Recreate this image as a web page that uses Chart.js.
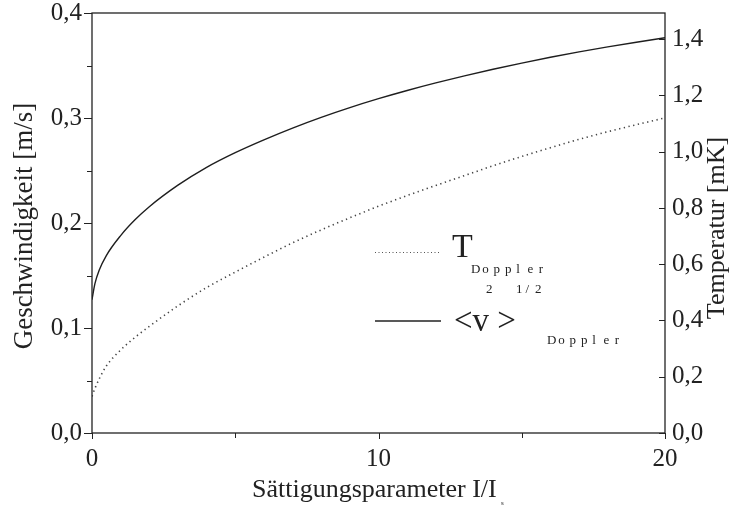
<!DOCTYPE html>
<html>
<head>
<meta charset="utf-8">
<script src="https://cdn.jsdelivr.net/npm/chart.js@4"></script>
<style>
  body { margin: 0; background: #fff; }
  canvas { display: block; }
</style>
</head>
<body>
<canvas id="chart" width="745" height="509"></canvas>
<script>
// saturation parameter I/Is
var sat = [0, 0.1, 0.25, 0.5, 1, 1.5, 2, 3, 4, 5, 6, 7, 8, 9, 10, 11, 12, 13, 14, 15, 16, 17, 18, 19, 20];
// <v^2>^1/2 Doppler [m/s], left axis
var vel = [0.127, 0.142, 0.155, 0.169, 0.188, 0.203, 0.2155, 0.236, 0.253, 0.267, 0.2792, 0.2904, 0.3006, 0.3099, 0.3184, 0.3262, 0.3334, 0.3401, 0.3464, 0.3523, 0.3579, 0.3630, 0.3677, 0.3722, 0.3764];
// T Doppler [mK], right axis
var temp = [0.13, 0.158, 0.192, 0.238, 0.295, 0.340, 0.379, 0.452, 0.517, 0.572, 0.625, 0.676, 0.722, 0.765, 0.806, 0.844, 0.880, 0.915, 0.950, 0.983, 1.014, 1.044, 1.071, 1.096, 1.120];

var xTicks = [0, 10, 20];
var serif = '"Liberation Serif", "DejaVu Serif", serif';

function comma(v, d) {
    return v.toFixed(d).replace('.', ',');
}

function spaced(ctx, text, x, y, gap) {
    for (var i = 0; i < text.length; i++) {
        ctx.fillText(text[i], x + i * gap, y);
    }
}

var decor = {
    id: 'decor',
    afterDraw: function (chart) {
        var ctx = chart.ctx;
        var a = chart.chartArea;
        var sx = chart.scales.x, sl = chart.scales.y, sr = chart.scales.y1;
        ctx.save();
        ctx.strokeStyle = '#222';
        ctx.lineWidth = 1.3;
        ctx.strokeRect(a.left, a.top, a.right - a.left, a.bottom - a.top);

        ctx.lineWidth = 1;
        ctx.beginPath();
        sl.ticks.forEach(function (t) {
            var y = Math.round(sl.getPixelForValue(t.value)) + 0.5;
            var len = t.label ? 8 : 5;
            ctx.moveTo(a.left - len, y); ctx.lineTo(a.left, y);
        });
        sr.ticks.forEach(function (t) {
            var y = Math.round(sr.getPixelForValue(t.value)) + 0.5;
            var len = t.label ? 6 : 5;
            ctx.moveTo(a.right - len, y); ctx.lineTo(a.right, y);
        });
        sx.ticks.forEach(function (t) {
            var x = Math.round(sx.getPixelForValue(t.value)) + 0.5;
            var len = t.label ? 6 : 5;
            ctx.moveTo(x, a.bottom); ctx.lineTo(x, a.bottom + len);
        });
        ctx.stroke();

        // axis titles
        ctx.fillStyle = '#222';
        ctx.textAlign = 'center';
        ctx.textBaseline = 'middle';
        ctx.font = '27px ' + serif;
        ctx.save();
        ctx.translate(25, 226);
        ctx.rotate(-Math.PI / 2);
        ctx.fillText('Geschwindigkeit [m/s]', 0, 0);
        ctx.restore();
        ctx.font = '26px ' + serif;
        ctx.save();
        ctx.translate(717, 228);
        ctx.rotate(-Math.PI / 2);
        ctx.fillText('Temperatur [mK]', 0, 0);
        ctx.restore();
        ctx.textAlign = 'left';
        ctx.textBaseline = 'alphabetic';
        ctx.fillText('Sättigungsparameter I/I', 252, 497);
        ctx.font = '7px ' + serif;
        ctx.fillText('s', 501, 505);

        // legend
        ctx.strokeStyle = '#555';
        ctx.lineWidth = 1.2;
        ctx.setLineDash([1, 2.5]);
        ctx.beginPath();
        ctx.moveTo(375, 252.5); ctx.lineTo(441, 252.5);
        ctx.stroke();
        ctx.setLineDash([]);
        ctx.strokeStyle = '#222';
        ctx.lineWidth = 1.4;
        ctx.beginPath();
        ctx.moveTo(375, 321); ctx.lineTo(441, 321);
        ctx.stroke();

        ctx.font = '34px ' + serif;
        ctx.fillText('T', 452, 257);
        ctx.font = '33px ' + serif;
        ctx.fillText('<v >', 454, 331);
        ctx.font = '13px ' + serif;
        spaced(ctx, 'Doppler', 471, 273, 11.3);
        spaced(ctx, 'Doppler', 547, 344, 11.3);
        ctx.fillText('2', 486, 293);
        spaced(ctx, '1/2', 516, 293, 9.5);
        ctx.restore();
    }
};

new Chart(document.getElementById('chart'), {
    type: 'line',
    data: {
        labels: sat,
        datasets: [{
            label: 'T Doppler',
            data: temp,
            yAxisID: 'y1',
            borderColor: '#444',
            borderWidth: 1.6,
            borderDash: [1.3, 3.5],
            pointRadius: 0,
            cubicInterpolationMode: 'monotone',
            fill: false
        }, {
            label: '<v²>1/2 Doppler',
            data: vel,
            yAxisID: 'y',
            borderColor: '#1e1e1e',
            borderWidth: 1.4,
            pointRadius: 0,
            cubicInterpolationMode: 'monotone',
            fill: false
        }]
    },
    options: {
        responsive: false,
        animation: false,
        layout: { padding: { top: 13, left: 0, right: 0, bottom: 0 } },
        plugins: { legend: { display: false }, tooltip: { enabled: false } },
        scales: {
            x: {
                type: 'linear',
                min: 0,
                max: 20,
                grid: { display: false, drawTicks: false },
                border: { display: false },
                afterFit: function (s) { s.height = 76; s.paddingLeft = 0; s.paddingRight = 0; },
                afterBuildTicks: function (s) {
                    s.ticks = [0, 5, 10, 15, 20].map(function (v) { return { value: v }; });
                },
                ticks: {
                    padding: 11,
                    color: '#222',
                    font: { family: serif, size: 25 },
                    maxRotation: 0,
                    callback: function (v) { return xTicks.indexOf(v) >= 0 ? String(v) : ''; }
                }
            },
            y: {
                position: 'left',
                min: 0,
                max: 0.4,
                grid: { display: false, drawTicks: false },
                border: { display: false },
                afterFit: function (s) { s.width = 92; s.paddingTop = 0; s.paddingBottom = 0; },
                ticks: {
                    stepSize: 0.05,
                    padding: 10,
                    color: '#222',
                    font: { family: serif, size: 25 },
                    callback: function (v) {
                        return Math.round(v * 100) % 10 === 0 ? comma(v, 1) : '';
                    }
                }
            },
            y1: {
                position: 'right',
                min: 0,
                max: 1.493,
                grid: { display: false, drawTicks: false },
                border: { display: false },
                afterFit: function (s) { s.width = 80; s.paddingTop = 0; s.paddingBottom = 0; },
                ticks: {
                    stepSize: 0.1,
                    includeBounds: false,
                    padding: 7,
                    color: '#222',
                    font: { family: serif, size: 25 },
                    callback: function (v) {
                        return Math.round(v * 10) % 2 === 0 ? comma(v, 1) : '';
                    }
                }
            }
        }
    },
    plugins: [decor]
});
</script>
</body>
</html>
